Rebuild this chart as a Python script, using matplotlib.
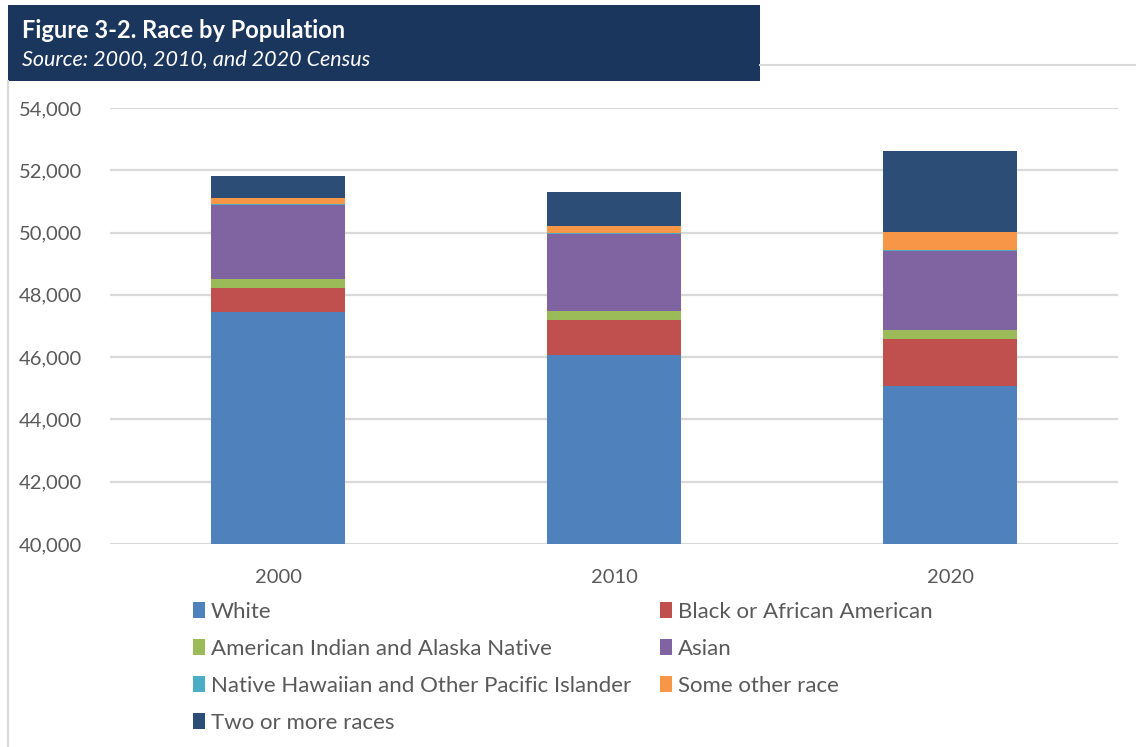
import matplotlib.pyplot as plt
from matplotlib.patches import Rectangle, Patch
from matplotlib.lines import Line2D
from matplotlib.ticker import FuncFormatter
import numpy as np

plt.rcParams['font.family'] = ['Lato', 'DejaVu Sans']

# Data
years = ["2000", "2010", "2020"]
races = ["White", "Black or African American", "American Indian and Alaska Native",
         "Asian", "Native Hawaiian and Other Pacific Islander", "Some other race",
         "Two or more races"]
white = [47440, 46060, 45070]
black = [790, 1140, 1510]
aian = [280, 290, 290]
asian = [2390, 2480, 2540]
nhpi = [20, 20, 30]
other = [200, 210, 590]
two_more = [700, 1100, 2590]
series = [white, black, aian, asian, nhpi, other, two_more]
colors = ["#4F81BD", "#C0504D", "#9BBB59", "#8064A2", "#4BACC6", "#F79646", "#2C4D75"]

text_col = "#595959"
grid_col = "#D9D9D9"

W, H = 1136, 747
fig = plt.figure(figsize=(W / 100, H / 100), dpi=100)

# plot area in pixel coords: x 110..1118, y 108..544
ax = fig.add_axes([110 / W, 1 - 544 / H, (1118 - 110) / W, (544 - 108) / H])

x = np.arange(len(years))
bottom = np.zeros(len(years))
for vals, col, name in zip(series, colors, races):
    ax.bar(x, vals, bottom=bottom, width=0.4, color=col, label=name, zorder=3)
    bottom += np.array(vals)

ax.set_ylim(40000, 54000)
ax.set_xlim(-0.5, 2.5)
ax.set_yticks(np.arange(40000, 54001, 2000))
ax.yaxis.set_major_formatter(FuncFormatter(lambda v, p: f"{int(v):,}"))
ax.set_xticks(x)
ax.set_xticklabels(years)
ax.tick_params(axis='both', length=0, labelsize=14.5, colors=text_col)
ax.tick_params(axis='y', pad=20)
ax.tick_params(axis='x', pad=18)
ax.grid(axis='y', color=grid_col, linewidth=1.6, zorder=0)
ax.set_axisbelow(True)
for s in ax.spines.values():
    s.set_visible(False)

# legend: two columns placed separately, row-major order as in the reference
handles = [Patch(facecolor=c) for c in colors]
col1 = [0, 2, 4, 6]
col2 = [1, 3, 5]
for idx, xpos in ((col1, 193), (col2, 660)):
    leg = fig.legend([handles[i] for i in idx], [races[i] for i in idx],
                     loc='upper left', bbox_to_anchor=(xpos / W, 1 - 602 / H),
                     frameon=False, fontsize=16, labelcolor=text_col,
                     handlelength=0.55, handleheight=0.75, handletextpad=0.25,
                     labelspacing=0.76, borderpad=0, borderaxespad=0)

# header box and frame lines
fig.add_artist(Rectangle((8 / W, 1 - 81 / H), (760 - 8) / W, (81 - 5) / H,
                         transform=fig.transFigure, facecolor="#1B365D", edgecolor='none'))
fig.add_artist(Line2D([760 / W, 1], [1 - 65 / H, 1 - 65 / H], transform=fig.transFigure,
                      color=grid_col, linewidth=1.5))
fig.add_artist(Line2D([8 / W, 8 / W], [1 - 81 / H, 0], transform=fig.transFigure,
                      color=grid_col, linewidth=1.5))
fig.text(22 / W, 1 - 31 / H, "Figure 3-2. Race by Population", color='white',
         fontsize=17, fontweight='bold', va='center', ha='left')
fig.text(22 / W, 1 - 59 / H, "Source: 2000, 2010, and 2020 Census", color='white',
         fontsize=15.5, fontstyle='italic', va='center', ha='left')

fig.savefig("out.png", dpi=100)
